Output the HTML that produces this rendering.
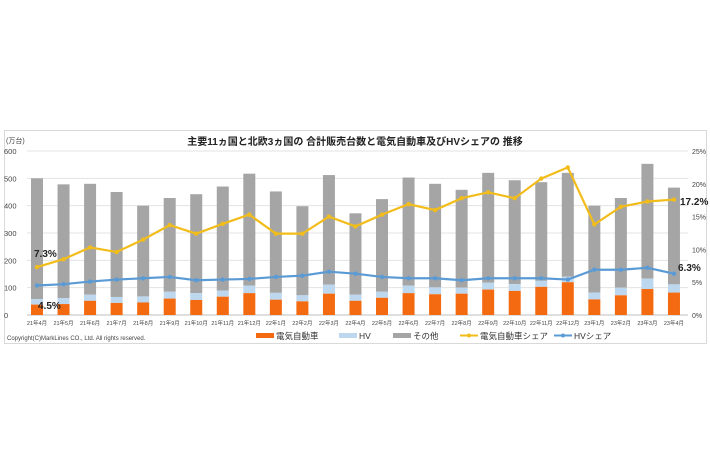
<!DOCTYPE html>
<html><head><meta charset="utf-8"><style>
html,body{margin:0;padding:0;background:#fff;width:710px;height:474px;overflow:hidden}
svg text{font-family:"Liberation Sans","Noto Sans CJK JP",sans-serif}
</style></head><body>
<svg id="c" width="710" height="474" xmlns="http://www.w3.org/2000/svg"></svg>
<script>
var tot=[500,478,480,450,400,428,442,470,517,452,398,512,372,424,503,480,458,520,493,486,520,400,428,553,466];
var ev=[38,40,52,44,46,60,55,67,80,56,50,78,52,63,80,76,78,93,88,103,120,57,72,95,82];
var hv=[20,22,22,22,22,25,25,22,28,25,22,33,22,22,28,25,22,25,25,22,20,25,28,38,30];
var es=[7.3,8.5,10.3,9.6,11.5,13.7,12.4,13.9,15.3,12.4,12.4,15.0,13.5,15.3,16.9,16.0,17.8,18.7,17.8,20.8,22.5,13.8,16.5,17.3,17.6];
var hs=[4.5,4.7,5.1,5.4,5.6,5.8,5.3,5.4,5.5,5.8,6.0,6.6,6.3,5.8,5.6,5.6,5.3,5.6,5.6,5.6,5.4,6.9,6.9,7.2,6.3];
var labs=[];for(var i=0;i<25;i++){var y=21+Math.floor((i+3)/12),m=(i+3)%12+1;labs.push(y+"年"+m+"月");}
var y0=315,y1=151,ppu=(y0-y1)/600,ppp=(y0-y1)/25;
function X(i){return 37+i*26.54}
var s='<rect x="4.5" y="130.5" width="702" height="213" fill="#fff" stroke="#d9d9d9"/>';
for(var k=0;k<=6;k++){var y=y0-k*100*ppu;s+='<line x1="27" x2="688" y1="'+y+'" y2="'+y+'" stroke="'+(k?'#e3e3e3':'#bfbfbf')+'" stroke-width="1"/>';
s+='<text x="4" y="'+(y+3)+'" font-size="7.5" fill="#444">'+k*100+'</text>';}
for(var k=0;k<=5;k++){var y=y0-k*5*ppp;s+='<text x="692" y="'+(y+3)+'" font-size="7" fill="#444">'+k*5+'%</text>';}
s+='<text x="6" y="143" font-size="7" fill="#444">(万台)</text>';
s+='<text x="355" y="145" font-size="10" font-weight="bold" text-anchor="middle" fill="#222">主要11ヵ国と北欧3ヵ国の 合計販売台数と電気自動車及びHVシェアの 推移</text>';
for(var i=0;i<25;i++){var x=X(i)-6,w=12;
var ye=y0-ev[i]*ppu,yh=ye-hv[i]*ppu,yt=y0-tot[i]*ppu;
s+='<rect x="'+x+'" y="'+yt+'" width="'+w+'" height="'+(yh-yt)+'" fill="#a5a5a5"/>';
s+='<rect x="'+x+'" y="'+yh+'" width="'+w+'" height="'+(ye-yh)+'" fill="#bdd7ee"/>';
s+='<rect x="'+x+'" y="'+ye+'" width="'+w+'" height="'+(y0-ye)+'" fill="#f36a10"/>';
s+='<text x="'+X(i)+'" y="325" font-size="5.5" text-anchor="middle" fill="#444">'+labs[i]+'</text>';}
function line(a,c){var p=a.map(function(v,i){return X(i)+','+(y0-v*ppp)}).join(' ');
var r='<polyline points="'+p+'" fill="none" stroke="'+c+'" stroke-width="2.2"/>';
a.forEach(function(v,i){r+='<circle cx="'+X(i)+'" cy="'+(y0-v*ppp)+'" r="2.2" fill="'+c+'"/>'});return r;}
s+=line(es,'#f2bd1b')+line(hs,'#5b9bd5');
s+='<text x="34" y="257" font-size="10" font-weight="bold" fill="#222">7.3%</text>';
s+='<text x="38" y="309" font-size="10" font-weight="bold" fill="#222">4.5%</text>';
s+='<text x="680" y="205" font-size="10" font-weight="bold" fill="#222">17.2%</text>';
s+='<text x="678" y="271" font-size="10" font-weight="bold" fill="#222">6.3%</text>';
s+='<text x="7" y="340" font-size="6" fill="#444">Copyright(C)MarkLines CO., Ltd. All rights reserved.</text>';
function lg(x,t,c,type){var r='';if(type=='b')r+='<rect x="'+x+'" y="333" width="18" height="5" fill="'+c+'"/>';
else r+='<line x1="'+x+'" x2="'+(x+18)+'" y1="335.5" y2="335.5" stroke="'+c+'" stroke-width="2"/><circle cx="'+(x+9)+'" cy="335.5" r="2" fill="'+c+'"/>';
return r+'<text x="'+(x+20)+'" y="339" font-size="8.5" fill="#333">'+t+'</text>';}
s+=lg(256,'電気自動車','#f36a10','b')+lg(339,'HV','#bdd7ee','b')+lg(393,'その他','#a5a5a5','b')+lg(460,'電気自動車シェア','#f2bd1b','l')+lg(554,'HVシェア','#5b9bd5','l');
document.getElementById('c').innerHTML=s;
</script>
</body></html>
